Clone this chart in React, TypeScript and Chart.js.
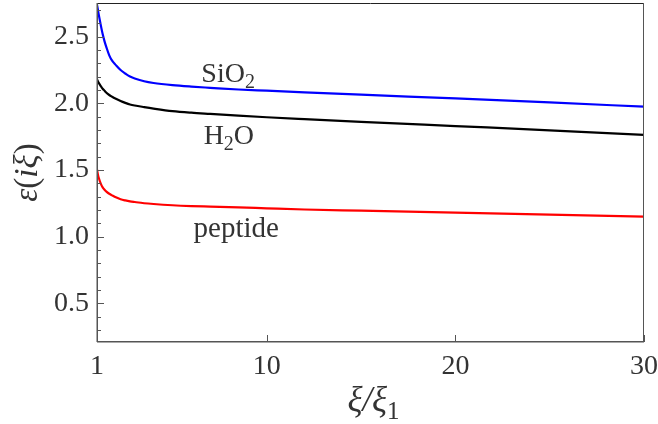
import React, { useEffect, useRef } from "react";
import { Chart, registerables } from "chart.js";

Chart.register(...registerables);

// ξ/ξ1 sample positions
const XI = [1, 1.05, 1.1, 1.2, 1.3, 1.4, 1.5, 1.65, 1.8, 2, 2.25, 2.5, 2.75, 3, 3.5, 4, 5, 6, 7, 8.5, 10, 12, 15, 20, 25, 30];
// ε(iξ) values
const SIO2 = [2.74, 2.7, 2.66, 2.587, 2.52, 2.465, 2.42, 2.36, 2.32, 2.287, 2.25, 2.224, 2.201, 2.187, 2.166, 2.153, 2.137, 2.126, 2.117, 2.104, 2.095, 2.083, 2.065, 2.037, 2.007, 1.975];
const H2O = [2.18, 2.165, 2.152, 2.13, 2.11, 2.095, 2.08, 2.063, 2.05, 2.035, 2.018, 2.004, 1.992, 1.984, 1.972, 1.961, 1.942, 1.93, 1.921, 1.908, 1.896, 1.882, 1.862, 1.83, 1.798, 1.763];
const PEPTIDE = [1.505, 1.465, 1.438, 1.398, 1.37, 1.352, 1.338, 1.322, 1.31, 1.295, 1.281, 1.272, 1.265, 1.26, 1.251, 1.245, 1.236, 1.23, 1.226, 1.22, 1.213, 1.204, 1.195, 1.18, 1.165, 1.15];

const X_TICKS = [1, 10, 20, 30];
const Y_MAJOR = [0.5, 1.0, 1.5, 2.0, 2.5];
const Y_TICKS = [0.3, 0.4, 0.5, 0.6, 0.7, 0.8, 0.9, 1.0, 1.1, 1.2, 1.3, 1.4, 1.5, 1.6, 1.7, 1.8, 1.9, 2.0, 2.1, 2.2, 2.3, 2.4, 2.5, 2.6, 2.7];

const X_MIN = 1;
const X_MAX = 30;
const Y_MIN = 0.21;
const Y_MAX = 2.753;

const SERIF = "'Liberation Serif', 'Times New Roman', serif";
const TEXT_COLOR = "#333";

type Seg = { t: string; sub?: boolean; italic?: boolean };

function drawRich(ctx: CanvasRenderingContext2D, segs: Seg[], x: number, y: number, size: number) {
  const fontFor = (s: Seg) => `${s.italic ? "italic " : ""}${s.sub ? Math.round(size * 0.7) : size}px ${SERIF}`;
  let total = 0;
  const widths = segs.map((s) => {
    ctx.font = fontFor(s);
    const w = ctx.measureText(s.t).width;
    total += w;
    return w;
  });
  let cx = x - total / 2;
  ctx.textAlign = "left";
  ctx.textBaseline = "alphabetic";
  segs.forEach((s, i) => {
    ctx.font = fontFor(s);
    ctx.fillText(s.t, cx, s.sub ? y + size * 0.22 : y);
    cx += widths[i];
  });
}

const decorPlugin = {
  id: "decor",
  afterDraw(chart: any) {
    const { ctx, chartArea: a, scales } = chart;
    const xs = scales.x;
    const ys = scales.y;
    ctx.save();
    // frame
    ctx.lineWidth = 1;
    ctx.strokeStyle = "#222";
    ctx.beginPath();
    ctx.moveTo(a.left, a.top + 0.5);
    ctx.lineTo(a.right, a.top + 0.5);
    ctx.stroke();
    ctx.strokeStyle = "#555";
    ctx.beginPath();
    ctx.moveTo(a.right - 0.5, a.top);
    ctx.lineTo(a.right - 0.5, a.bottom);
    ctx.stroke();
    ctx.lineWidth = 1.5;
    ctx.strokeStyle = "#555";
    ctx.beginPath();
    ctx.moveTo(a.left + 0.25, a.top);
    ctx.lineTo(a.left + 0.25, a.bottom);
    ctx.moveTo(a.left, a.bottom - 0.25);
    ctx.lineTo(a.right, a.bottom - 0.25);
    ctx.stroke();
    // ticks (inward)
    ctx.lineWidth = 1;
    ctx.strokeStyle = "#555";
    ctx.beginPath();
    Y_TICKS.forEach((v) => {
      const py = Math.round(ys.getPixelForValue(v)) + 0.5;
      const len = Y_MAJOR.some((m) => Math.abs(m - v) < 1e-6) ? 7 : 4;
      ctx.moveTo(a.left, py);
      ctx.lineTo(a.left + len, py);
    });
    X_TICKS.forEach((v) => {
      const px = Math.round(xs.getPixelForValue(v)) + 0.5;
      ctx.moveTo(px, a.bottom);
      ctx.lineTo(px, a.bottom - 7);
    });
    ctx.stroke();

    // curve labels
    ctx.fillStyle = TEXT_COLOR;
    drawRich(ctx, [{ t: "SiO" }, { t: "2", sub: true }], xs.getPixelForValue(7.95), ys.getPixelForValue(2.16), 28);
    drawRich(ctx, [{ t: "H" }, { t: "2", sub: true }, { t: "O" }], xs.getPixelForValue(7.99), ys.getPixelForValue(1.695), 28);
    drawRich(ctx, [{ t: "peptide" }], xs.getPixelForValue(8.38), ys.getPixelForValue(1.0), 29);

    // x title
    drawRich(ctx, [{ t: "ξ/ξ", italic: true }, { t: "1", sub: true }], (a.left + a.right) / 2 + 3, 411, 35);

    // y title
    ctx.translate(37, (a.top + a.bottom) / 2);
    ctx.rotate(-Math.PI / 2);
    drawRich(ctx, [{ t: "ε", italic: true }, { t: "(" }, { t: "iξ", italic: true }, { t: ")" }], 0, 0, 33);
    ctx.restore();
  },
};

export default function App() {
  const ref = useRef<HTMLCanvasElement | null>(null);

  useEffect(() => {
    if (!ref.current) return;
    const mk = (vals: number[]) => XI.map((x, i) => ({ x, y: vals[i] }));
    const line = (label: string, vals: number[], color: string) => ({
      label,
      data: mk(vals),
      borderColor: color,
      backgroundColor: color,
      borderWidth: 2.2,
      pointRadius: 0,
      cubicInterpolationMode: "monotone" as const,
      fill: false,
    });
    const chart = new Chart(ref.current, {
      type: "line",
      data: {
        datasets: [line("SiO2", SIO2, "#0000ff"), line("H2O", H2O, "#000000"), line("peptide", PEPTIDE, "#ff0000")],
      },
      options: {
        animation: false,
        responsive: false,
        maintainAspectRatio: false,
        devicePixelRatio: 1,
        layout: { padding: { top: 3, right: 14, left: 0, bottom: 0 } },
        plugins: { legend: { display: false }, tooltip: { enabled: false } },
        scales: {
          x: {
            type: "linear",
            min: X_MIN,
            max: X_MAX,
            grid: { display: false },
            border: { display: false },
            afterBuildTicks: (s: any) => {
              s.ticks = X_TICKS.map((v) => ({ value: v }));
            },
            afterFit: (s: any) => {
              s.height = 82;
              s.paddingLeft = 0;
              s.paddingRight = 0;
            },
            ticks: {
              autoSkip: false,
              maxRotation: 0,
              padding: 0,
              color: TEXT_COLOR,
              font: { family: SERIF, size: 28 },
              callback: (v: any) => String(v),
            },
          },
          y: {
            type: "linear",
            min: Y_MIN,
            max: Y_MAX,
            grid: { display: false },
            border: { display: false },
            afterBuildTicks: (s: any) => {
              s.ticks = Y_TICKS.map((v) => ({ value: v }));
            },
            afterFit: (s: any) => {
              s.width = 97;
              s.paddingTop = 0;
              s.paddingBottom = 0;
            },
            ticks: {
              autoSkip: false,
              padding: 0,
              color: TEXT_COLOR,
              font: { family: SERIF, size: 28 },
              callback: (v: any) => (Y_MAJOR.some((m) => Math.abs(m - v) < 1e-6) ? Number(v).toFixed(1) : ""),
            },
          },
        },
      },
      plugins: [decorPlugin],
    });
    return () => chart.destroy();
  }, []);

  return (
    <div style={{ position: "absolute", left: 0, top: 0, width: 658, height: 424, background: "#fff" }}>
      <canvas ref={ref} width={658} height={424} style={{ width: 658, height: 424, display: "block" }} />
    </div>
  );
}
